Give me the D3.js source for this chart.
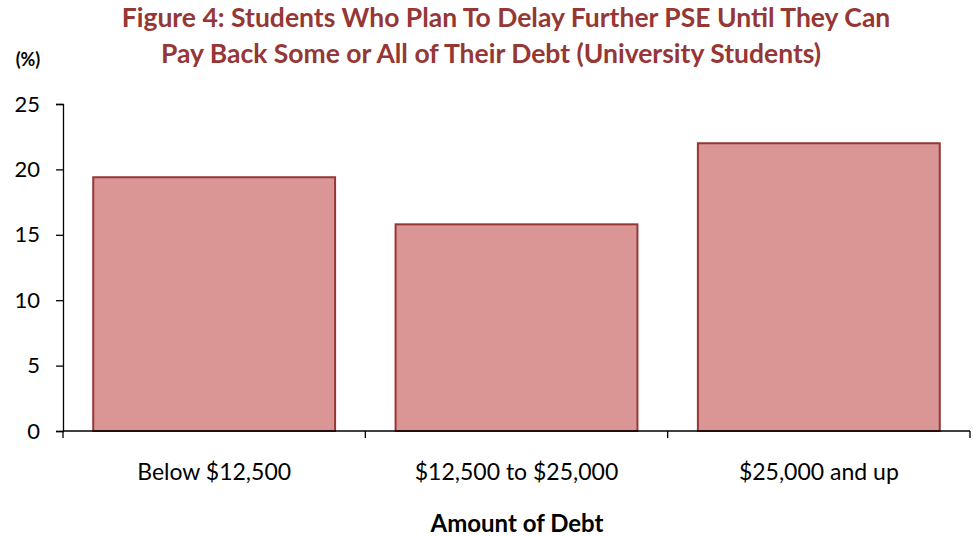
<!DOCTYPE html>
<html><head><meta charset="utf-8">
<script src="https://cdn.jsdelivr.net/npm/d3@7"></script>
<style>body{margin:0;background:#fff}svg{display:block}text{font-family:Lato,"Open Sans",sans-serif}</style>
</head><body><svg id="c" width="973" height="537"></svg>
<script>
const categories = ["Below $12,500", "$12,500 to $25,000", "$25,000 and up"];
const values = [19.4, 15.8, 22.0];
const yTicks = [0, 5, 10, 15, 20, 25];
const titleLines = ["Figure 4: Students Who Plan To Delay Further PSE Until They Can", "Pay Back Some or All of Their Debt (University Students)"];

const svg = d3.select("#c");
const x = d3.scaleBand().domain(categories).range([63, 970]).paddingInner(0.2).paddingOuter(0.1);
const y = d3.scaleLinear().domain([0, 25]).range([431, 104]);

svg.selectAll("rect.bar").data(values).enter().append("rect")
  .attr("x", (d, i) => x(categories[i]))
  .attr("width", x.bandwidth())
  .attr("y", d => y(d))
  .attr("height", d => y(0) - y(d))
  .attr("fill", "#D99694").attr("stroke", "#953735").attr("stroke-width", 2);

const ya = svg.append("g").attr("transform", "translate(63,0)")
  .call(d3.axisLeft(y).tickValues(yTicks).tickSize(7).tickPadding(16));
ya.select(".domain").attr("stroke", "#000").attr("stroke-width", 1.3);
ya.selectAll(".tick line").attr("stroke", "#000").attr("stroke-width", 1.3);
ya.selectAll("text").attr("font-size", 22).attr("fill", "#000").attr("font-family", "Lato");

const xa = svg.append("g").attr("transform", "translate(0,431)");
xa.append("line").attr("x1", 63).attr("x2", 970).attr("stroke", "#000").attr("stroke-width", 1.3);
const edges = [63].concat(categories.map(c => x(c) + x.bandwidth() + x.step() * x.paddingInner() / 2));
edges[edges.length - 1] = 970;
xa.selectAll("line.t").data(edges).enter().append("line")
  .attr("x1", d => d).attr("x2", d => d).attr("y1", 0).attr("y2", 7)
  .attr("stroke", "#000").attr("stroke-width", 1.3);
xa.selectAll("text.c").data(categories).enter().append("text")
  .attr("x", d => x(d) + x.bandwidth() / 2).attr("y", 49)
  .attr("text-anchor", "middle").attr("font-size", 23).attr("fill", "#000").text(d => d);

const titleX = [506, 491];
svg.selectAll("text.title").data(titleLines).enter().append("text")
  .attr("x", (d, i) => titleX[i]).attr("y", (d, i) => 27 + i * 36)
  .attr("text-anchor", "middle").attr("font-size", 26.5).attr("font-weight", "bold")
  .attr("fill", "#953735").text(d => d);

svg.append("text").attr("x", 28).attr("y", 66).attr("text-anchor", "middle")
  .attr("font-size", 18).attr("font-weight", "bold").attr("fill", "#000").text("(%)");
svg.append("text").attr("x", 517).attr("y", 532).attr("text-anchor", "middle")
  .attr("font-size", 24).attr("font-weight", "bold").attr("fill", "#000").text("Amount of Debt");
</script></body></html>
